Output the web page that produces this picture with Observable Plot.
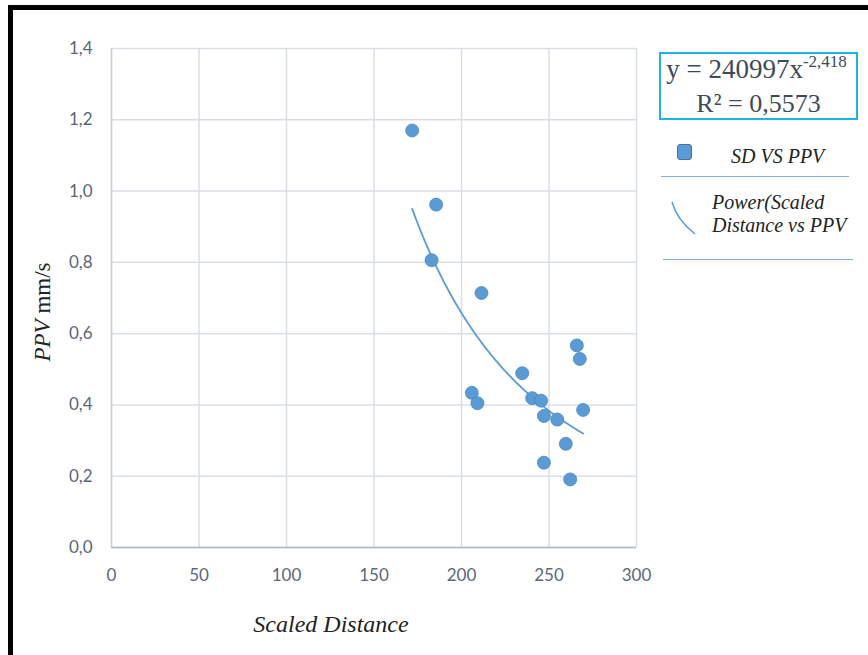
<!DOCTYPE html>
<html><head><meta charset="utf-8">
<script src="https://cdn.jsdelivr.net/npm/d3@7"></script>
<script src="https://cdn.jsdelivr.net/npm/@observablehq/plot@0.6"></script>
<style>
body{margin:0;background:#fff;}
#wrap{position:relative;width:868px;height:655px;overflow:hidden;background:#fff;}
#frame{position:absolute;left:8px;top:5px;right:-10px;bottom:-10px;border-top:5px solid #000;border-left:5px solid #000;pointer-events:none;}
.ov{position:absolute;font-family:"Liberation Serif","Times New Roman",serif;color:#222;white-space:nowrap;}
#eq{left:659px;top:52px;width:195px;height:64px;border:2px solid #1db2ea;color:#3e4a5a;font-size:26px;line-height:31px;text-align:center;padding-top:0px;}
#eq sup{font-size:17px;vertical-align:0;position:relative;top:-11px;}
#eq .l1{position:relative;left:-2px;font-size:27px;}
.lg{font-style:italic;font-size:20px;}
.sep{position:absolute;height:0;border-top:1.5px solid #7fb0e0;}
</style>
</head><body>
<div id="wrap">
  <div id="chart"></div>
  <div id="frame"></div>
  <div class="ov" id="ylab" style="left:43px;top:312px;transform:translate(-50%,-50%) rotate(-90deg);font-size:23px;"><i>PPV</i> mm/s</div>
  <div class="ov" id="xlab" style="left:331px;top:624px;transform:translate(-50%,-50%);font-size:24px;font-style:italic;">Scaled Distance</div>
  <div class="ov" id="eq"></div>
  <div class="ov" style="left:677px;top:144px;width:13px;height:14px;background:#5b9bd5;border:1.5px solid #41719c;border-radius:3px;"></div>
  <div class="ov lg" id="lg1" style="left:731px;top:145px;"></div>
  <div class="sep" style="left:661px;top:176px;width:188px;"></div>
  <svg class="ov" style="left:668px;top:198px;" width="32" height="40"><path d="M4,4 Q9,22 27,36" fill="none" stroke="#5b9bd5" stroke-width="1.5"/></svg>
  <div class="ov lg" id="lg2" style="left:712px;top:191px;line-height:23px;"></div>
  <div class="sep" style="left:663px;top:259px;width:190px;"></div>
</div>
<script>
// Data
const scaledDistance = [171.8,185.5,182.9,211.4,265.9,267.6,234.7,205.9,209.1,240.4,245.5,269.5,247.1,254.7,259.6,247.1,262.1];
const ppvValues      = [1.170,0.962,0.806,0.714,0.567,0.529,0.489,0.434,0.405,0.419,0.412,0.386,0.369,0.359,0.291,0.238,0.191];
const xTicks = [0,50,100,150,200,250,300];
const yTicks = [0,0.2,0.4,0.6,0.8,1.0,1.2,1.4];
// Power trendline as shown in the chart: y = a * x^b
const trendCoef = 240997;
const trendExp = -2.418;
const trendR2 = 0.5573;
const seriesName = "SD VS PPV";
const trendName = ["Power(Scaled", "Distance vs PPV"];

const comma = (v, d) => v.toFixed(d).replace(".", ",");
const points = scaledDistance.map((x, i) => ({x, y: ppvValues[i]}));
const xMin = d3.min(scaledDistance), xMax = d3.max(scaledDistance);
const trend = d3.range(xMin, xMax, 0.5).concat([xMax]).map(x => ({x, y: trendCoef * Math.pow(x, trendExp)}));

const grid = "#dadfe6";
const chart = Plot.plot({
  width: 868, height: 655,
  marginLeft: 111, marginRight: 232, marginTop: 48, marginBottom: 108,
  style: {fontFamily: "Lato, 'Open Sans', sans-serif", fontSize: "17px", color: "#5a6679", background: "transparent"},
  x: {domain: [0, 300], ticks: xTicks},
  y: {domain: [0, 1.4], ticks: yTicks},
  marks: [
    Plot.gridX(xTicks, {stroke: grid, strokeOpacity: 1, strokeWidth: 1.5}),
    Plot.gridY(yTicks, {stroke: grid, strokeOpacity: 1, strokeWidth: 1.5}),
    Plot.ruleY([0], {stroke: "#aab6c8", strokeWidth: 1.5}),
    Plot.ruleX([0], {stroke: "#c9d1dc", strokeWidth: 1.5}),
    Plot.axisX(xTicks, {tickSize: 0, tickPadding: 21, label: null, tickFormat: d => String(d)}),
    Plot.axisY(yTicks, {tickSize: 0, tickPadding: 19, label: null, tickFormat: d => comma(d, 1)}),
    Plot.line(trend, {x: "x", y: "y", stroke: "#5b9bd5", strokeWidth: 1.8}),
    Plot.dot(points, {x: "x", y: "y", r: 6.5, fill: "#5b9bd5", stroke: "#4a86c2", strokeWidth: 0.8})
  ]
});
document.getElementById("chart").appendChild(chart);
document.getElementById("eq").innerHTML = `<span class="l1">y = ${trendCoef}x<sup>${comma(trendExp, 3)}</sup></span><br>R² = ${comma(trendR2, 4)}`;
document.getElementById("lg1").textContent = seriesName;
document.getElementById("lg2").innerHTML = trendName.join("<br>");
</script>
</body></html>
